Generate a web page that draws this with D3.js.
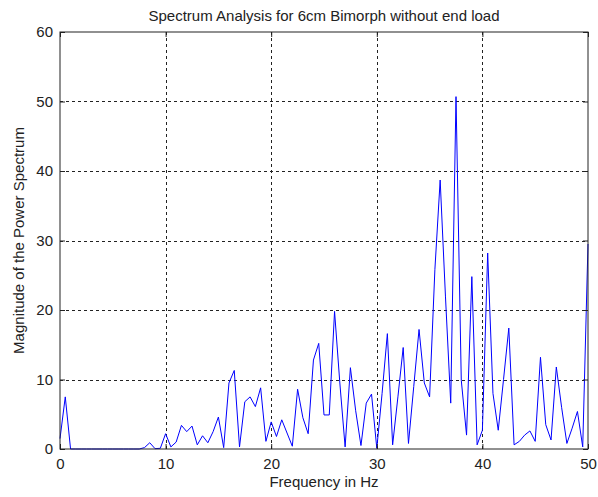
<!DOCTYPE html>
<html>
<head>
<meta charset="utf-8">
<script src="https://cdn.jsdelivr.net/npm/d3@7/dist/d3.min.js"></script>
<style>
  html, body { margin: 0; padding: 0; background: #fff; }
  svg { display: block; }
  text { font-family: "Liberation Sans", Arial, sans-serif; fill: #222; }
</style>
</head>
<body>
<svg id="chart" width="598" height="497"></svg>
<script>
// Power spectrum of the 6cm bimorph (no end load), bins every 0.5 Hz from 0 to 50 Hz
const freqStep = 0.5;
const magnitudes = [
  1.5, 7.5, 0, 0, 0, 0, 0, 0, 0, 0,
  0, 0, 0, 0, 0, 0, 0.2, 0.9, 0.05, 0.1,
  2.2, 0.3, 1.0, 3.4, 2.5, 3.3, 0.6, 1.9, 0.9, 2.5,
  4.6, 0.2, 9.5, 11.3, 0.3, 6.8, 7.5, 6.1, 8.8, 1.1,
  3.9, 1.8, 4.2, 2.3, 0.4, 8.6, 4.5, 2.2, 12.8, 15.2,
  4.9, 4.9, 19.8, 9.5, 0.3, 11.7, 5.5, 0.5, 6.6, 7.9,
  0.1, 8.0, 16.6, 0.6, 7.5, 14.6, 0.8, 9.0, 17.2, 9.5,
  7.5, 25.8, 38.7, 22.0, 6.6, 50.7, 9.9, 2.0, 24.8, 0.6,
  2.7, 28.2, 8.0, 2.7, 10.0, 17.4, 0.6, 1.1, 2.0, 2.6,
  1.1, 13.2, 3.5, 1.3, 11.8, 6.0, 0.8, 3.0, 5.4, 0.3,
  29.5
];
const xTicks = [0, 10, 20, 30, 40, 50];
const yTicks = [0, 10, 20, 30, 40, 50, 60];

const titleText = "Spectrum Analysis for 6cm Bimorph without end load";
const xLabelText = "Frequency in Hz";
const yLabelText = "Magnitude of the Power Spectrum";

const spectrum = magnitudes.map((m, i) => ({ f: i * freqStep, m }));

const svg = d3.select("#chart");
const margin = { left: 60, right: 10, top: 32, bottom: 48 };
const W = 598, H = 497;
const plotW = W - margin.left - margin.right;
const plotH = H - margin.top - margin.bottom;
const fontSize = 15;

const x = d3.scaleLinear().domain([0, 50]).range([margin.left, margin.left + plotW]);
const y = d3.scaleLinear().domain([0, 60]).range([margin.top + plotH, margin.top]);

// dotted grid
const grid = svg.append("g");
grid.selectAll("line.gx").data(xTicks.slice(1, -1)).join("line")
  .attr("x1", d => Math.round(x(d)) + 0.5).attr("x2", d => Math.round(x(d)) + 0.5)
  .attr("y1", y(60)).attr("y2", y(0))
  .attr("stroke", "#222").attr("stroke-width", 1).attr("stroke-dasharray", "3,3");
grid.selectAll("line.gy").data(yTicks.slice(1, -1)).join("line")
  .attr("y1", d => Math.round(y(d)) + 0.5).attr("y2", d => Math.round(y(d)) + 0.5)
  .attr("x1", x(0)).attr("x2", x(50))
  .attr("stroke", "#222").attr("stroke-width", 1).attr("stroke-dasharray", "3,3");

// spectrum trace
svg.append("path")
  .datum(spectrum)
  .attr("fill", "none")
  .attr("stroke", "#0000ff")
  .attr("stroke-width", 1)
  .attr("d", d3.line().x(d => x(d.f)).y(d => y(d.m)));

// axes with inward ticks
const axisStyle = g => {
  g.select(".domain").remove();
  g.selectAll(".tick line").attr("stroke", "#222");
  g.selectAll(".tick text").attr("font-size", fontSize).attr("fill", "#222")
    .attr("font-family", "Liberation Sans, Arial, sans-serif");
};
svg.append("g")
  .attr("transform", `translate(0,${y(0)})`)
  .call(d3.axisBottom(x).tickValues(xTicks).tickSize(-5).tickPadding(9).tickFormat(d3.format("d")))
  .call(axisStyle);
svg.append("g")
  .attr("transform", `translate(${x(0)},0)`)
  .call(d3.axisLeft(y).tickValues(yTicks).tickSize(-5).tickPadding(7).tickFormat(d3.format("d")))
  .call(axisStyle);
svg.append("g")
  .attr("transform", `translate(0,${y(60)})`)
  .call(d3.axisTop(x).tickValues(xTicks).tickSize(-5).tickFormat(""))
  .call(axisStyle);
svg.append("g")
  .attr("transform", `translate(${x(50)},0)`)
  .call(d3.axisRight(y).tickValues(yTicks).tickSize(-5).tickFormat(""))
  .call(axisStyle);

// plot box
svg.append("rect")
  .attr("x", x(0)).attr("y", y(60))
  .attr("width", x(50) - x(0)).attr("height", y(0) - y(60))
  .attr("fill", "none").attr("stroke", "#222").attr("stroke-width", 1);

// titles
svg.append("text")
  .attr("x", (x(0) + x(50)) / 2).attr("y", 21)
  .attr("text-anchor", "middle").attr("font-size", fontSize)
  .text(titleText);
svg.append("text")
  .attr("x", (x(0) + x(50)) / 2).attr("y", 487)
  .attr("text-anchor", "middle").attr("font-size", fontSize)
  .text(xLabelText);
svg.append("text")
  .attr("transform", `translate(24,${(y(0) + y(60)) / 2}) rotate(-90)`)
  .attr("text-anchor", "middle").attr("font-size", fontSize)
  .text(yLabelText);
</script>
</body>
</html>
